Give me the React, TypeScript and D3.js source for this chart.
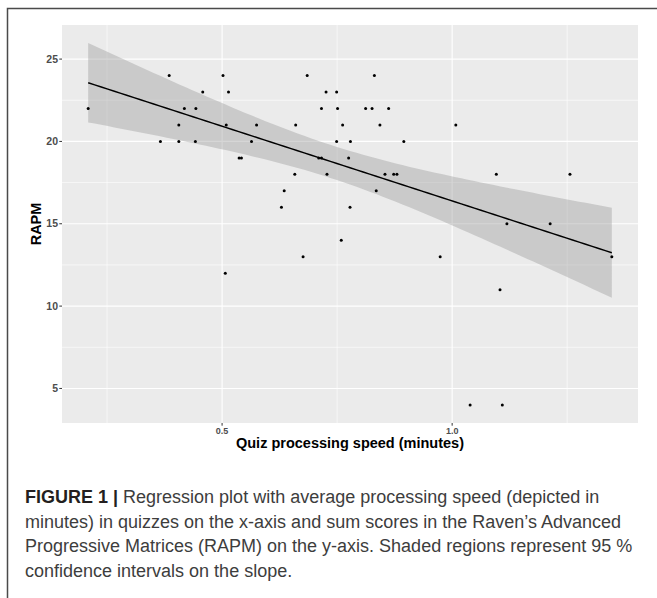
import React from "react";
import * as d3 from "d3";

// quiz processing speed (minutes) and RAPM sum score
const speed = [
  0.385, 0.502, 0.685, 0.831,
  0.458, 0.514, 0.726, 0.749,
  0.209, 0.418, 0.443, 0.716, 0.751, 0.812, 0.826, 0.862,
  0.406, 0.509, 0.575, 0.66, 0.762, 0.843, 1.008,
  0.366, 0.406, 0.442, 0.564, 0.749, 0.779, 0.895,
  0.537, 0.542, 0.71, 0.716, 0.775,
  0.658, 0.728, 0.854, 0.873, 0.88, 1.096, 1.256,
  0.635, 0.835,
  0.629, 0.778,
  1.119, 1.213,
  0.759,
  0.676, 0.974, 1.347,
  0.507,
  1.104,
  1.039, 1.109,
];
const rapm = [
  24, 24, 24, 24,
  23, 23, 23, 23,
  22, 22, 22, 22, 22, 22, 22, 22,
  21, 21, 21, 21, 21, 21, 21,
  20, 20, 20, 20, 20, 20, 20,
  19, 19, 19, 19, 19,
  18, 18, 18, 18, 18, 18, 18,
  17, 17,
  16, 16,
  15, 15,
  14,
  13, 13, 13,
  12,
  11,
  4, 4,
];
const xTicks = [0.5, 1.0];
const yTicks = [5, 10, 15, 20, 25];
const xTitle = "Quiz processing speed (minutes)";
const yTitle = "RAPM";
const captionLines = [
  "Regression plot with average processing speed (depicted in",
  "minutes) in quizzes on the x-axis and sum scores in the Raven\u2019s Advanced",
  "Progressive Matrices (RAPM) on the y-axis. Shaded regions represent 95 %",
  "confidence intervals on the slope.",
];

const W = 657;
const H = 598;
const panel = { left: 62, right: 638, top: 25, bottom: 423 };
const font = "'Liberation Sans', Arial, Helvetica, sans-serif";

// lm fit with 95% confidence band, like geom_smooth(method = "lm")
function fitLm(xs: number[], ys: number[]) {
  const n = xs.length;
  const mx = d3.mean(xs)!;
  const my = d3.mean(ys)!;
  let sxx = 0;
  let sxy = 0;
  xs.forEach((x, i) => {
    sxx += (x - mx) ** 2;
    sxy += (x - mx) * (ys[i] - my);
  });
  const b = sxy / sxx;
  const a = my - b * mx;
  let sse = 0;
  xs.forEach((x, i) => (sse += (ys[i] - (a + b * x)) ** 2));
  const s = Math.sqrt(sse / (n - 2));
  const t = 2.005; // qt(0.975, 54)
  const [x0, x1] = d3.extent(xs) as [number, number];
  const band = d3.range(0, 81).map((k) => {
    const x = x0 + ((x1 - x0) * k) / 80;
    const fit = a + b * x;
    const se = s * Math.sqrt(1 / n + (x - mx) ** 2 / sxx);
    return { x, fit, lo: fit - t * se, hi: fit + t * se };
  });
  return band;
}

export default function App() {
  const band = fitLm(speed, rapm);

  const [xmin, xmax] = d3.extent(speed) as [number, number];
  const xPad = (xmax - xmin) * 0.05;
  const x = d3
    .scaleLinear()
    .domain([xmin - xPad, xmax + xPad])
    .range([panel.left, panel.right]);

  const ymin = Math.min(d3.min(rapm)!, d3.min(band, (d) => d.lo)!);
  const ymax = Math.max(d3.max(rapm)!, d3.max(band, (d) => d.hi)!);
  const yPad = (ymax - ymin) * 0.05;
  const y = d3
    .scaleLinear()
    .domain([ymin - yPad, ymax + yPad])
    .range([panel.bottom, panel.top]);

  const xMinor = [0.25, 0.75, 1.25];
  const yMinor = [7.5, 12.5, 17.5, 22.5];

  const area = d3
    .area<{ x: number; lo: number; hi: number }>()
    .x((d) => x(d.x))
    .y0((d) => y(d.lo))
    .y1((d) => y(d.hi));
  const line = d3
    .line<{ x: number; fit: number }>()
    .x((d) => x(d.x))
    .y((d) => y(d.fit));

  const pw = panel.right - panel.left;
  const ph = panel.bottom - panel.top;

  return (
    <svg
      width={W}
      height={H}
      style={{ position: "absolute", left: 0, top: 0, background: "#fff" }}
      fontFamily={font}
    >
      {/* figure frame */}
      <path d={`M7.5,${H + 2}V8.5H${W + 2}`} fill="none" stroke="#4a4a4a" strokeWidth={1.5} />

      <rect x={panel.left} y={panel.top} width={pw} height={ph} fill="#ebebeb" />

      {xMinor.map((v) => (
        <line key={"xm" + v} x1={x(v)} x2={x(v)} y1={panel.top} y2={panel.bottom} stroke="#fff" strokeWidth={0.6} />
      ))}
      {yMinor.map((v) => (
        <line key={"ym" + v} y1={y(v)} y2={y(v)} x1={panel.left} x2={panel.right} stroke="#fff" strokeWidth={0.6} />
      ))}
      {xTicks.map((v) => (
        <line key={"xg" + v} x1={x(v)} x2={x(v)} y1={panel.top} y2={panel.bottom} stroke="#fff" strokeWidth={1.1} />
      ))}
      {yTicks.map((v) => (
        <line key={"yg" + v} y1={y(v)} y2={y(v)} x1={panel.left} x2={panel.right} stroke="#fff" strokeWidth={1.1} />
      ))}

      <path d={area(band) ?? ""} fill="#999999" fillOpacity={0.4} />

      {speed.map((v, i) => (
        <circle key={i} cx={x(v)} cy={y(rapm[i])} r={1.5} fill="#000" />
      ))}

      <path d={line(band) ?? ""} fill="none" stroke="#000" strokeWidth={1.5} />

      {/* axes */}
      {yTicks.map((v) => (
        <g key={"yt" + v}>
          <line x1={panel.left - 2.7} x2={panel.left} y1={y(v)} y2={y(v)} stroke="#333" strokeWidth={1} />
          <text
            x={panel.left - 4}
            y={y(v)}
            dy="0.35em"
            textAnchor="end"
            fontSize={10.5}
            fontWeight="bold"
            fill="#4d4d4d"
          >
            {v}
          </text>
        </g>
      ))}
      {xTicks.map((v) => (
        <g key={"xt" + v}>
          <line x1={x(v)} x2={x(v)} y1={panel.bottom} y2={panel.bottom + 2.7} stroke="#333" strokeWidth={1} />
          <text x={x(v)} y={panel.bottom + 11} textAnchor="middle" fontSize={9} fontWeight="bold" fill="#4d4d4d">
            {d3.format(".1f")(v)}
          </text>
        </g>
      ))}
      <text x={(panel.left + panel.right) / 2} y={448} textAnchor="middle" fontSize={14.5} fontWeight="bold" fill="#000">
        {xTitle}
      </text>
      <text
        transform={`translate(41,${(panel.top + panel.bottom) / 2}) rotate(-90)`}
        textAnchor="middle"
        fontSize={14.5}
        fontWeight="bold"
        fill="#000"
      >
        {yTitle}
      </text>

      {/* caption */}
      {captionLines.map((t, i) => (
        <text key={i} x={25} y={503 + i * 24.6} fontSize={18} fill="#3d3d3d">
          {i === 0 && (
            <tspan fontWeight="bold" fill="#231f20">
              {"FIGURE 1 | "}
            </tspan>
          )}
          {t}
        </text>
      ))}
    </svg>
  );
}
